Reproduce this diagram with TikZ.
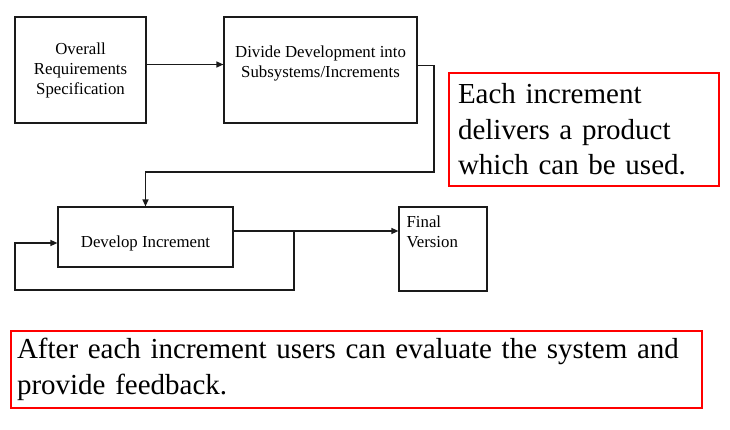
\documentclass[tikz,border=0pt]{standalone}
\usepackage{fontspec}
\setmainfont{Liberation Serif}
\usepackage{xcolor}
\definecolor{cLine}{HTML}{1A1A1A}
\definecolor{cNote}{HTML}{FF0000}
\usetikzlibrary{positioning,arrows.meta}
\tikzset{
  node-box/.style={draw=cLine,line width=1.2pt,inner sep=0pt,align=center,
    font=\fontsize{16.8}{20}\selectfont},
  box-text/.style={inner sep=0pt,align=center,font=\fontsize{16.8}{20}\selectfont},
  % red call-outs, text flush left
  node-note/.style={draw=cNote,line width=2.6pt,align=left,
    font=\fontsize{29}{35.5}\selectfont},
  arrow/.style={-{Triangle[length=7pt,width=6pt]},line width=1.3pt,draw=cLine},
}

\begin{document}
\begin{tikzpicture}[x=1pt,y=-1pt]
  \useasboundingbox (0,0) rectangle (730,430);
  \node[node-box,minimum width=131pt,minimum height=106pt] (req) at (80.5,70)
    {Overall\\Requirements\\Specification};
  \node[node-box,minimum width=193pt,minimum height=106pt,
    label={[box-text,anchor=north,yshift=-29pt]north:{Divide Development into\\Subsystems/Increments}}]
    (divide) at (320.5,70) {};
  \node[node-box,minimum width=175pt,minimum height=60pt,
    label={[box-text,anchor=center,yshift=-6pt]center:Develop Increment}]
    (dev) at (145.5,237) {};
  \node[node-box,minimum width=88pt,minimum height=84pt,
    label={[box-text,align=left,anchor=north west,xshift=8pt,yshift=-9pt]north west:{Final\\Version}}]
    (fin) at (443,249) {};

  \node[node-note,text width=252pt,inner xsep=9pt,minimum height=113pt] (note-use) at (584,129.5)
    {Each increment\\delivers a product\\which can be used.};
  \node[node-note,text width=679pt,inner xsep=6pt,minimum height=77pt] (note-feedback) at (356.5,369.5)
    {After each increment users can evaluate the system and\\provide feedback.};

  \coordinate (bend) at (434,172);
  \coordinate (out) at ([yshift=6pt]dev.east);
  \coordinate (loop-r) at (294,290);
  \coordinate (loop-l) at (15,290);

  \draw[arrow] ([yshift=5.5pt]req.east) -- ([yshift=5.5pt]divide.west);
  \draw[arrow] ([yshift=4.5pt]divide.east) -| (bend) -| (dev.north);
  \draw[arrow] (out) -- (out -| fin.west);
  \draw[arrow] (out -| loop-r) -- (loop-r) -- (loop-l) |- ([yshift=-6pt]dev.west);
\end{tikzpicture}
\end{document}
